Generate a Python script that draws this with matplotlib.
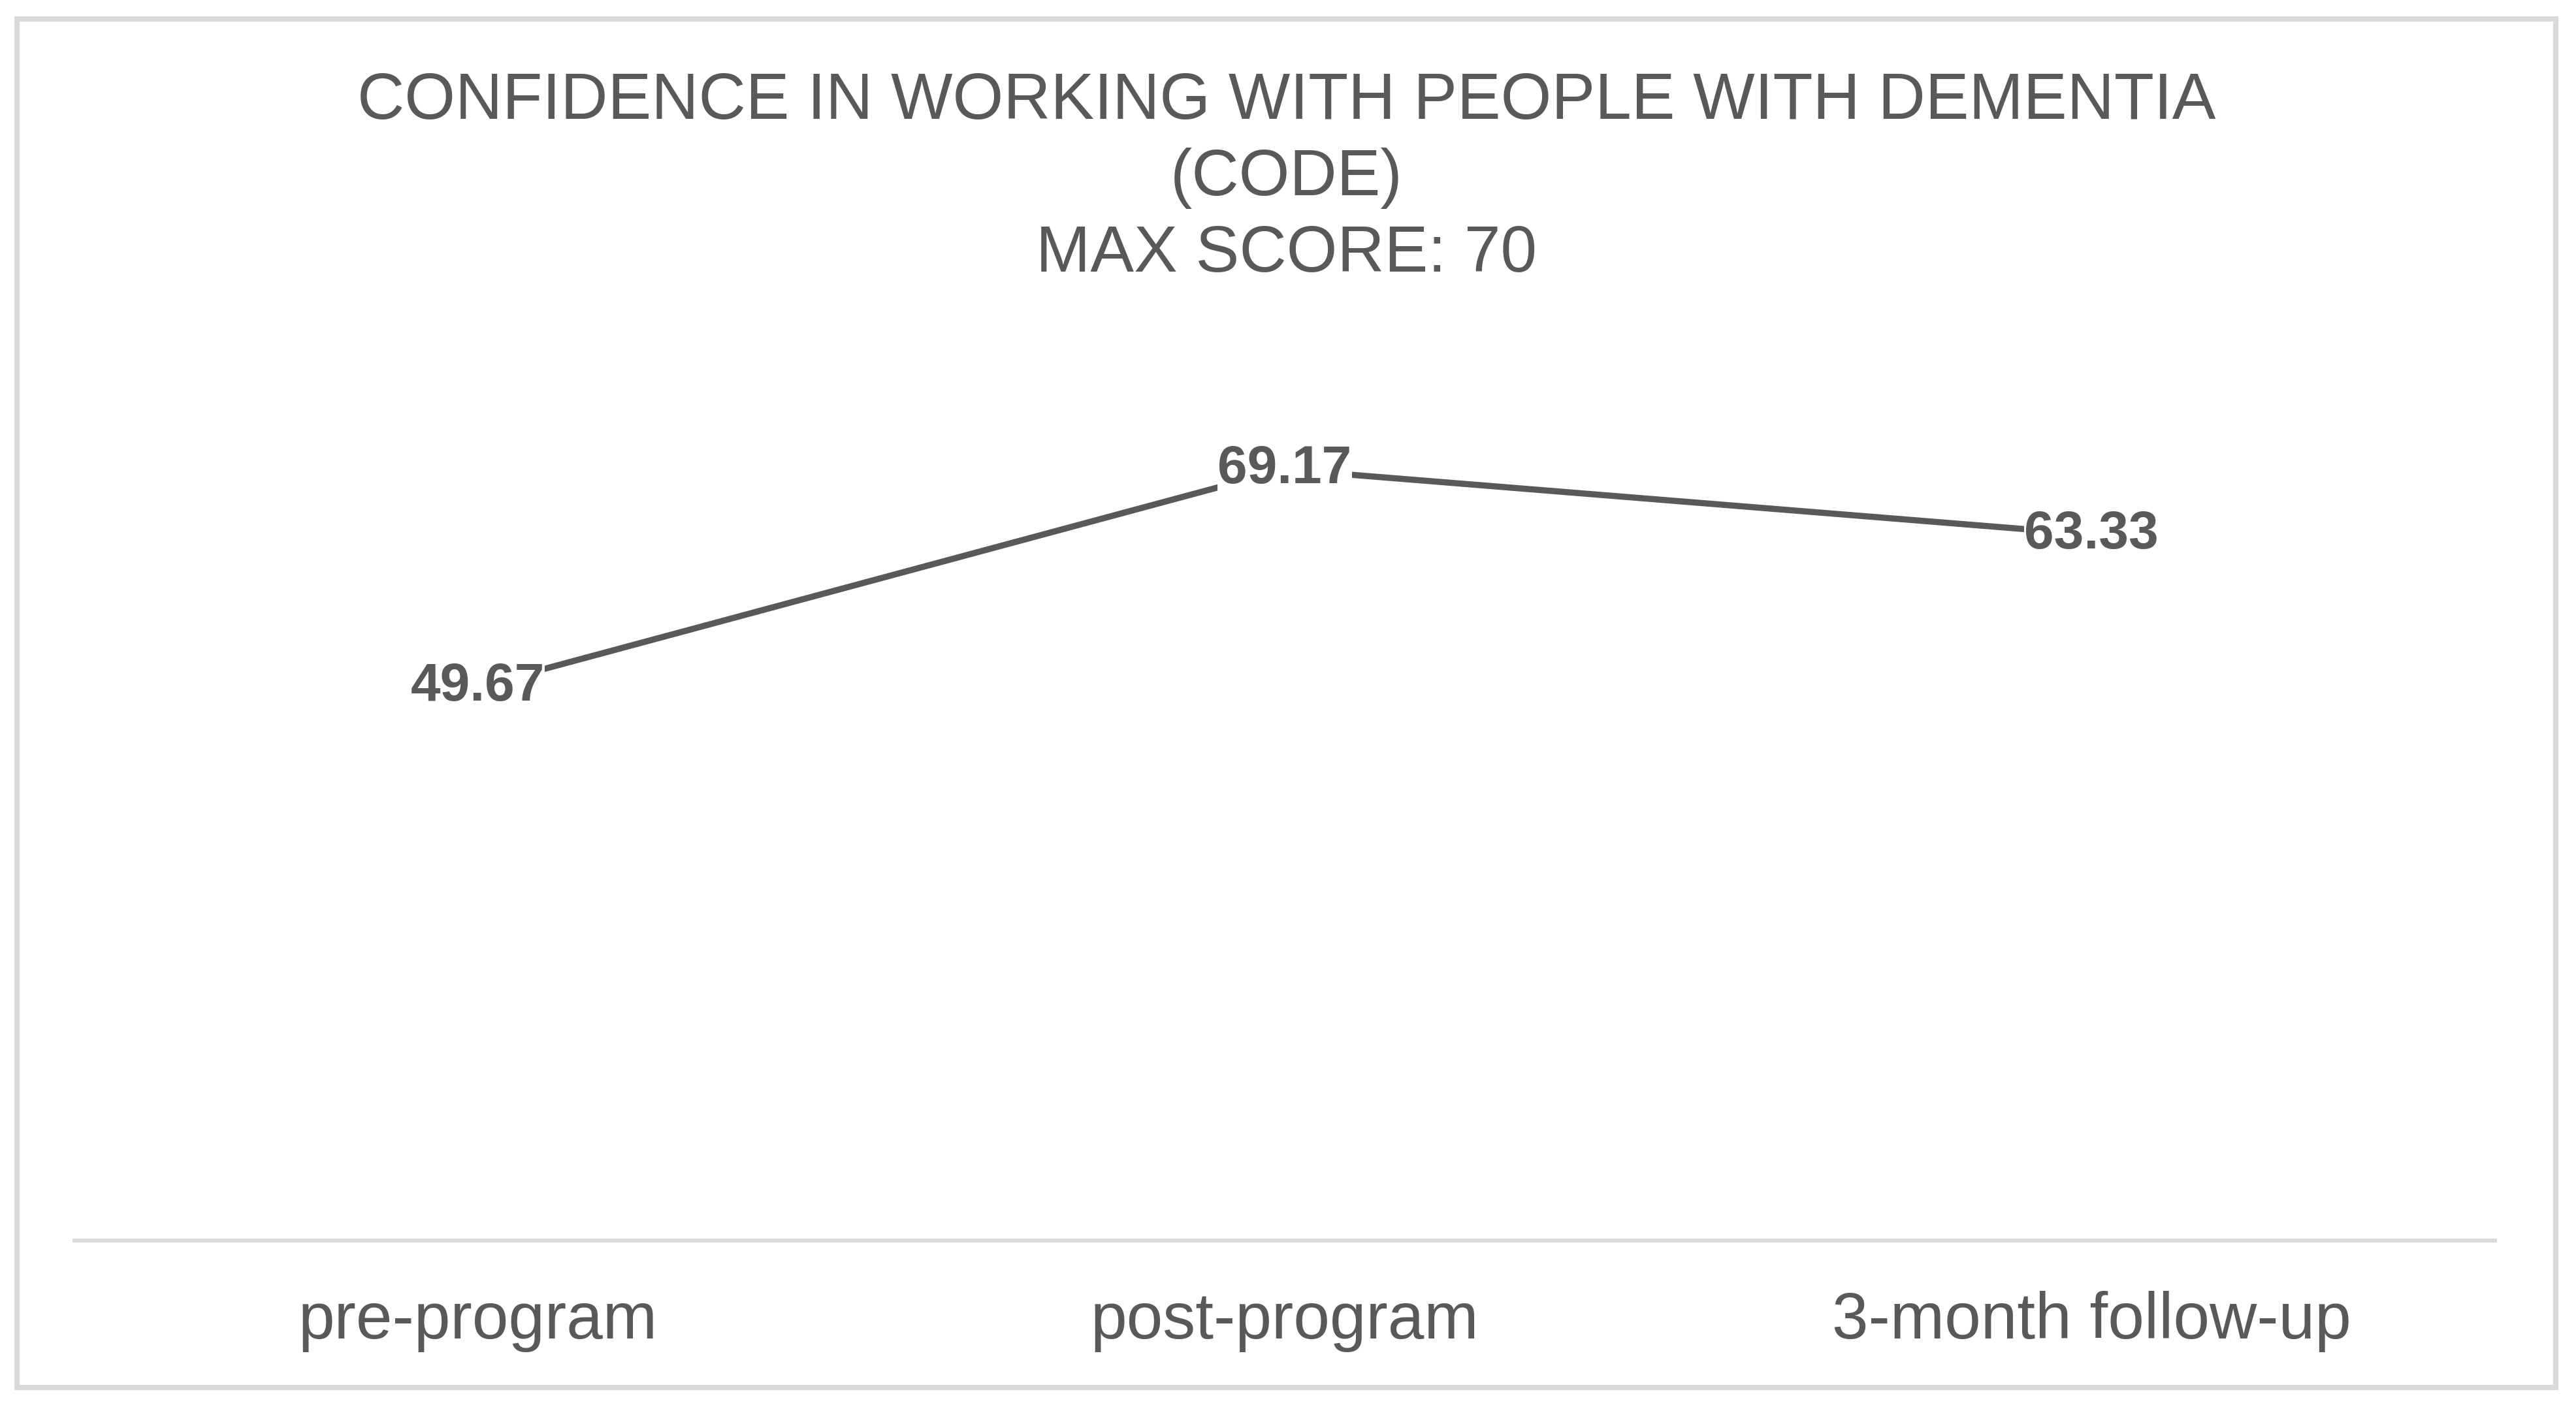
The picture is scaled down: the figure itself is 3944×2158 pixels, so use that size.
import matplotlib
matplotlib.use("Agg")
import matplotlib.pyplot as plt
from matplotlib.patches import Rectangle

plt.rcParams['font.family'] = ['Liberation Sans', 'DejaVu Sans']

# Data
categories = ["pre-program", "post-program", "3-month follow-up"]
scores = [49.67, 69.17, 63.33]
value_labels = ["49.67", "69.17", "63.33"]
title_lines = ["CONFIDENCE IN WORKING WITH PEOPLE WITH DEMENTIA", "(CODE)", "MAX SCORE: 70"]

W, H = 3944, 2158
DPI = 100
TEXT = "#595959"
LIGHT = "#d9d9d9"

fig = plt.figure(figsize=(W / DPI, H / DPI), dpi=DPI)
fig.patch.set_facecolor("white")

# outer chart border
fig.patches.append(Rectangle((26 / W, 1 - 2125 / H), (3913 - 26) / W, (2125 - 29) / H,
                             transform=fig.transFigure, fill=False,
                             edgecolor=LIGHT, linewidth=5.8, zorder=0))

# plot area
left, right, top, bottom = 114, 3820, 534, 1900
ax = fig.add_axes([left / W, 1 - bottom / H, (right - left) / W, (bottom - top) / H])
x = list(range(len(categories)))
ax.plot(x, scores, color=TEXT, linewidth=6.8, solid_capstyle='round', zorder=2)
for xi, yi, lab in zip(x, scores, value_labels):
    ax.text(xi, yi, lab, ha='center', va='center', fontsize=59, fontweight='bold',
            color=TEXT, zorder=3,
            bbox=dict(facecolor='white', edgecolor='none', pad=0))

ax.set_xlim(-0.5, len(categories) - 0.5)
ax.set_ylim(0, 80)
ax.set_yticks([])
ax.set_xticks(x, categories)
ax.tick_params(axis='x', length=0, pad=108, labelsize=72, labelcolor=TEXT)
for lbl in ax.get_xticklabels():
    lbl.set_verticalalignment('baseline')
for s in ['left', 'right', 'top']:
    ax.spines[s].set_visible(False)
ax.spines['bottom'].set_color(LIGHT)
ax.spines['bottom'].set_linewidth(4.3)
ax.set_facecolor('none')

# title
for yb, line in zip([182, 299, 416], title_lines):
    fig.text(1970 / W, 1 - yb / H, line, ha='center', va='baseline',
             fontsize=72, color=TEXT)

fig.savefig("out.png", dpi=DPI, facecolor="white")
